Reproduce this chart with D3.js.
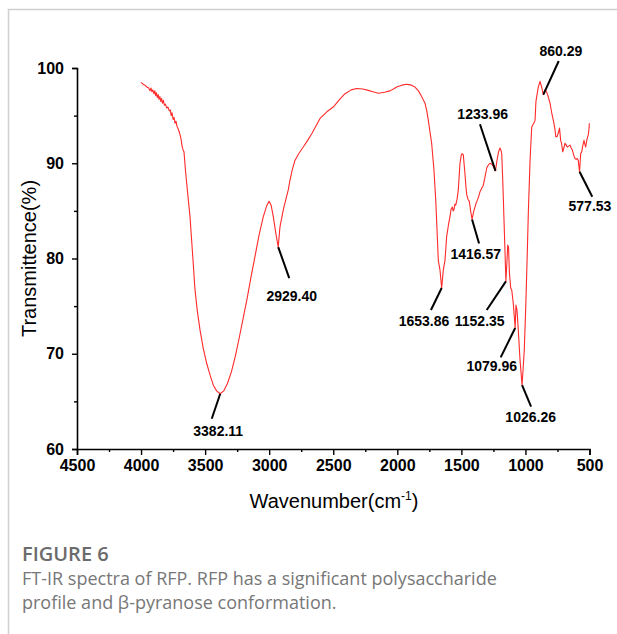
<!DOCTYPE html>
<html>
<head>
<meta charset="utf-8">
<script src="https://cdn.jsdelivr.net/npm/d3@7/dist/d3.min.js"></script>
<style>
  html, body { margin: 0; padding: 0; background: #fff; }
  svg { display: block; }
</style>
</head>
<body>
<svg id="chart" width="617" height="634"></svg>
<script>
// FT-IR spectrum of RFP: wavenumber (cm-1) and transmittance (%)
const wavenumber = [
  4000, 3985, 3970, 3955, 3940, 3930, 3922, 3915, 3908, 3900, 3893, 3886, 3880, 3873, 3866, 3860,
  3853, 3846, 3840, 3833, 3826, 3818, 3810, 3800, 3790, 3780, 3772, 3765, 3758, 3750, 3742, 3735,
  3727, 3720, 3710, 3700, 3690, 3680, 3672, 3665, 3655, 3644, 3630, 3618, 3600, 3579, 3560, 3540,
  3515, 3488, 3460, 3436, 3410, 3382.11, 3355, 3325, 3295, 3265, 3235, 3205, 3175, 3140, 3111, 3080, 3046,
  3020, 3001, 2985, 2968, 2950, 2929.40, 2916, 2890, 2870, 2851, 2838, 2820, 2799, 2770, 2734, 2700,
  2668, 2635, 2603, 2550, 2500, 2450, 2408, 2360, 2317, 2270, 2227, 2190, 2148, 2100, 2057, 2030,
  2005, 1965, 1927, 1890, 1862, 1835, 1810, 1795, 1784, 1770, 1758, 1745, 1732, 1714, 1700, 1690,
  1680, 1667, 1653.86, 1641, 1628, 1622, 1615, 1600, 1589, 1580, 1571, 1564, 1558, 1551, 1544, 1534,
  1524, 1511, 1500, 1493, 1485, 1478, 1472, 1465, 1458, 1448, 1438, 1428, 1416.57, 1405, 1394, 1385,
  1376, 1365, 1355, 1340, 1329, 1315, 1302, 1290, 1277, 1262, 1248, 1233.96, 1222, 1210, 1199, 1192,
  1185, 1178, 1173, 1166, 1160, 1152.35, 1145, 1138, 1132, 1125, 1115, 1107, 1095, 1079.96, 1074, 1066,
  1058, 1042, 1026.26, 1009, 996, 985, 977, 964, 951, 935, 925, 918, 900, 886, 872, 860.29,
  848, 835, 820, 808, 795, 782, 770, 763, 753, 743, 734, 725, 717, 709, 700, 691,
  682, 673, 663, 652, 643, 634, 622, 613, 604, 595, 588, 577.53, 569, 561, 553, 543,
  536, 530, 520, 509, 504, 501
];
const transmittance = [
  98.5, 98.3, 98.2, 98.0, 97.9, 97.6, 97.9, 97.5, 97.7, 97.3, 97.6, 97.1, 97.4, 96.9, 97.2, 96.7,
  97.0, 96.5, 96.8, 96.3, 96.6, 96.1, 96.2, 95.8, 95.9, 95.5, 95.6, 95.0, 95.3, 94.6, 94.8, 94.2,
  94.4, 93.9, 93.6, 93.2, 92.7, 91.8, 91.4, 91.2, 89.5, 87.9, 86.0, 84.4, 80.9, 76.7, 74.4, 72.5,
  70.6, 69.0, 67.7, 66.7, 66.1, 65.8, 66.1, 66.9, 68.1, 69.7, 71.6, 73.6, 75.6, 78.2, 80.2, 82.4, 84.4,
  85.5, 86.0, 85.6, 84.4, 82.8, 81.2, 83.3, 85.1, 86.2, 87.2, 88.2, 89.3, 90.3, 91.0, 91.7, 92.4,
  93.1, 93.9, 94.7, 95.4, 95.9, 96.7, 97.3, 97.7, 97.85, 97.8, 97.65, 97.5, 97.35, 97.45, 97.6, 97.8,
  98.0, 98.2, 98.3, 98.2, 98.0, 97.6, 97.0, 96.6, 96.3, 95.5, 94.5, 93.3, 92.1, 89.3, 86.1, 83.0,
  79.8, 78.8, 76.9, 78.8, 79.8, 80.9, 82.3, 83.6, 84.4, 85.2, 85.4, 85.0, 85.1, 85.7, 85.6, 86.2,
  87.2, 90.0, 90.9, 91.0, 90.9, 89.8, 88.9, 87.6, 86.7, 86.2, 86.0, 85.0, 84.1, 84.9, 85.4, 85.8,
  86.1, 86.5, 87.0, 87.4, 87.7, 88.6, 89.5, 89.8, 90.0, 89.9, 89.6, 89.2, 90.3, 91.2, 91.6, 91.4,
  91.0, 88.5, 86.5, 83.5, 80.9, 77.6, 79.5, 81.4, 81.2, 78.5, 76.9, 76.7, 75.3, 72.7, 75.1, 74.6,
  73.0, 69.3, 66.7, 70.4, 75.6, 80.9, 85.0, 90.3, 93.8, 94.2, 94.5, 96.5, 98.0, 98.6, 97.9, 97.2,
  97.7, 97.5, 96.9, 96.3, 95.3, 94.5, 93.6, 92.8, 92.8, 93.2, 93.7, 92.4, 92.0, 91.2, 91.6, 92.1,
  91.9, 91.7, 91.8, 91.9, 91.6, 91.4, 90.8, 90.5, 90.4, 90.5, 90.3, 89.1, 91.0, 91.2, 91.8, 92.4,
  92.0, 91.7, 92.5, 93.0, 93.6, 94.2
];

// Labelled absorption bands
const peakWavenumbers = [3382.11, 2929.40, 1653.86, 1416.57, 1233.96, 1152.35, 1079.96, 1026.26, 860.29, 577.53];
const peakLabels = ["3382.11", "2929.40", "1653.86", "1416.57", "1233.96", "1152.35", "1079.96", "1026.26", "860.29", "577.53"];

// Axis ticks
const xTicks = [4500, 4000, 3500, 3000, 2500, 2000, 1500, 1000, 500];
const xMinorTicks = [4250, 3750, 3250, 2750, 2250, 1750, 1250, 750];
const yTicks = [60, 70, 80, 90, 100];
const yMinorTicks = [65, 75, 85, 95];

// Callout geometry: leader end (lx, ly) and label centre (tx, ty), relative to the band point
const calloutLayout = {
  "3382.11": { lx: -8.5, ly: 25, tx: -2, ty: 37 },
  "2929.40": { lx: 11, ly: 31, tx: 13.5, ty: 48.6 },
  "1653.86": { lx: -10.7, ly: 22, tx: -17.7, ty: 33 },
  "1416.57": { lx: 7, ly: 24, tx: 3.7, ty: 34.6 },
  "1233.96": { lx: -15.5, ly: -46.6, tx: -12.8, ty: -56.6 },
  "1152.35": { lx: -19.2, ly: 28.6, tx: -26.2, ty: 39.6 },
  "1079.96": { lx: -14.5, ly: 29.3, tx: -23.5, ty: 37.7 },
  "1026.26": { lx: 9, ly: 21.5, tx: 8.6, ty: 31.5 },
  "860.29": { lx: 15.4, ly: -33.7, tx: 17.5, ty: -43.7 },
  "577.53": { lx: 12.7, ly: 25, tx: 10.4, ty: 34 }
};

const svg = d3.select("#chart");
const FONT = "Arial, 'Liberation Sans', Helvetica, sans-serif";

// Panel frame (top and left rules)
svg.append("path")
  .attr("d", "M8.5,634 L8.5,9.5 L617,9.5")
  .attr("fill", "none")
  .attr("stroke", "#cfcfcf")
  .attr("stroke-width", 1.5);

const x = d3.scaleLinear().domain([4500, 500]).range([77, 589.5]);
const y = d3.scaleLinear().domain([60, 100]).range([449, 68]);

const axisColor = "#000";

// X axis
const gx = svg.append("g").attr("transform", `translate(0,${y(60)})`);
gx.call(d3.axisBottom(x).tickValues(xTicks).tickSize(6).tickPadding(5).tickFormat(d3.format("d")));
gx.append("g").call(d3.axisBottom(x).tickValues(xMinorTicks).tickSize(3).tickFormat(""))
  .select(".domain").remove();

// Y axis
const gy = svg.append("g").attr("transform", `translate(${x(4500)},0)`);
gy.call(d3.axisLeft(y).tickValues(yTicks).tickSize(5).tickPadding(8).tickFormat(d3.format("d")));
gy.append("g").call(d3.axisLeft(y).tickValues(yMinorTicks).tickSize(3).tickFormat(""))
  .select(".domain").remove();

svg.selectAll(".domain").attr("stroke", axisColor).attr("stroke-width", 1.6);
svg.selectAll(".tick line").attr("stroke", axisColor).attr("stroke-width", 1.4);
svg.selectAll(".tick text")
  .attr("fill", "#000")
  .style("font-family", FONT)
  .style("font-size", "16px")
  .style("font-weight", "bold");

// Spectrum
const points = wavenumber.map((w, i) => [w, transmittance[i]]);
svg.append("path")
  .datum(points)
  .attr("fill", "none")
  .attr("stroke", "#ff2a2a")
  .attr("stroke-width", 1.1)
  .attr("stroke-linejoin", "round")
  .attr("d", d3.line().x(d => x(d[0])).y(d => y(d[1])));

// Band callouts
const callouts = svg.append("g");
peakWavenumbers.forEach((w, i) => {
  const idx = wavenumber.indexOf(w);
  const px = x(w), py = y(transmittance[idx]);
  const c = calloutLayout[peakLabels[i]];
  callouts.append("line")
    .attr("x1", px).attr("y1", py)
    .attr("x2", px + c.lx).attr("y2", py + c.ly)
    .attr("stroke", "#000").attr("stroke-width", 2);
  callouts.append("text")
    .attr("x", px + c.tx).attr("y", py + c.ty)
    .attr("dy", "0.36em")
    .attr("text-anchor", "middle")
    .style("font-family", FONT)
    .style("font-size", "14px")
    .style("font-weight", "bold")
    .text(peakLabels[i]);
});

// Axis titles
const xTitle = svg.append("text")
  .attr("x", 334).attr("y", 508)
  .attr("text-anchor", "middle")
  .style("font-family", FONT)
  .style("font-size", "20px");
xTitle.append("tspan").text("Wavenumber(cm");
xTitle.append("tspan").attr("dy", -8).style("font-size", "12px").text("-1");
xTitle.append("tspan").attr("dy", 8).text(")");

svg.append("text")
  .attr("transform", `translate(36,${(y(60) + y(100)) / 2}) rotate(-90)`)
  .attr("text-anchor", "middle")
  .style("font-family", FONT)
  .style("font-size", "20px")
  .text("Transmittence(%)");

// Caption
svg.append("text")
  .attr("x", 22).attr("y", 561)
  .attr("fill", "#6b6b6b")
  .style("font-family", "'Open Sans', sans-serif")
  .style("font-size", "20px")
  .style("font-weight", 600)
  .text("FIGURE 6");

const captionLines = [
  "FT-IR spectra of RFP. RFP has a significant polysaccharide",
  "profile and β-pyranose conformation."
];
svg.append("g").selectAll("text")
  .data(captionLines)
  .join("text")
  .attr("x", 22)
  .attr("y", (d, i) => 585 + i * 24)
  .attr("fill", "#777777")
  .style("font-family", "'Open Sans', sans-serif")
  .style("font-size", "18px")
  .text(d => d);
</script>
</body>
</html>
